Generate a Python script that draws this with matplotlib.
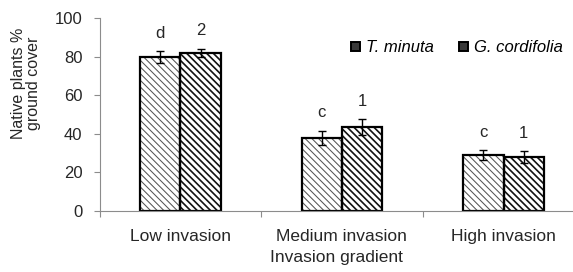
import numpy as np
import matplotlib.pyplot as plt
import matplotlib as mpl
from matplotlib.patches import Patch

plt.rcParams['font.family'] = ['Liberation Sans', 'DejaVu Sans']
mpl.rcParams['hatch.linewidth'] = 0.8

# Data
categories = ['Low invasion', 'Medium invasion', 'High invasion']
t_minuta = [79.8, 37.8, 29]
t_minuta_err = [3, 3.8, 2.5]
g_cordifolia = [82, 43.5, 28]
g_cordifolia_err = [2, 4, 3]
t_letters = ['d', 'c', 'c']
g_letters = ['2', '1', '1']

fig = plt.figure(figsize=(5.73, 2.72), dpi=100)
ax = fig.add_axes([99.5 / 573, 61 / 272, 1 - 99.5 / 573, 193 / 272])

x = np.arange(len(categories))
w = 0.25
grey = '#8c8c8c'
txt = '#262626'


def set_hlw(patches, lw):
    for p in patches:
        if hasattr(p, 'set_hatch_linewidth'):
            p.set_hatch_linewidth(lw)


# hatched fills (matplotlib hatch: 6 lines per inch per backslash)
fill_t = ax.bar(x - w / 2, t_minuta, w, color='white', edgecolor='#555555',
                hatch='\\' * 5, linewidth=0)
fill_g = ax.bar(x + w / 2, g_cordifolia, w, color='white', edgecolor='#111111',
                hatch='\\' * 5, linewidth=0)
set_hlw(fill_t, 0.75)
set_hlw(fill_g, 1.2)
# outlines and error bars
ax.bar(x - w / 2, t_minuta, w, yerr=t_minuta_err, fill=False, edgecolor='black', linewidth=1.6,
       error_kw=dict(ecolor='black', capsize=2.8, elinewidth=1, capthick=1))
ax.bar(x + w / 2, g_cordifolia, w, yerr=g_cordifolia_err, fill=False, edgecolor='black', linewidth=1.6,
       error_kw=dict(ecolor='black', capsize=2.8, elinewidth=1, capthick=1))

# significance letters
for i in range(len(categories)):
    ax.text(x[i] - w / 2, t_minuta[i] + t_minuta_err[i] + 5.5, t_letters[i],
            ha='center', va='bottom', fontsize=12, color=txt)
    ax.text(x[i] + w / 2, g_cordifolia[i] + g_cordifolia_err[i] + 5.5, g_letters[i],
            ha='center', va='bottom', fontsize=12, color=txt)

ax.set_ylim(0, 100)
ax.set_yticks([0, 20, 40, 60, 80, 100])
ax.set_xlim(-0.5, 2.43)
ax.set_xticks([-0.5, 0.5, 1.5])
ax.set_xticklabels([])
ax.set_xticks(x, minor=True)
ax.set_xticklabels(categories, minor=True)
ax.tick_params(axis='x', which='minor', length=0, pad=13, labelsize=12.5, labelcolor=txt)
ax.tick_params(axis='x', which='major', length=4, color=grey)
ax.tick_params(axis='y', length=4, color=grey, labelsize=12, labelcolor=txt, pad=8.3)

for s in ['top', 'right']:
    ax.spines[s].set_visible(False)
for s in ['left', 'bottom']:
    ax.spines[s].set_color(grey)

ax.set_ylabel('Native plants %\nground cover', fontsize=11.5, color=txt, linespacing=0.95)
ax.yaxis.set_label_coords(-0.124, 0.66)
ax.set_xlabel('Invasion gradient', fontsize=12.5, color=txt, labelpad=4)

handles = [Patch(facecolor='#3a3a3a', edgecolor='black', linewidth=1.4),
           Patch(facecolor='#3a3a3a', edgecolor='black', linewidth=1.4)]
fig.legend(handles, ['T. minuta', 'G. cordifolia'], loc='center left',
           bbox_to_anchor=(343 / 573, 1 - 48 / 272), ncol=2, frameon=False, borderpad=0,
           handlelength=0.5, handleheight=0.5, handletextpad=0.4, columnspacing=1.5,
           prop={'style': 'italic', 'size': 12})

fig.savefig('out.png', dpi=100)
